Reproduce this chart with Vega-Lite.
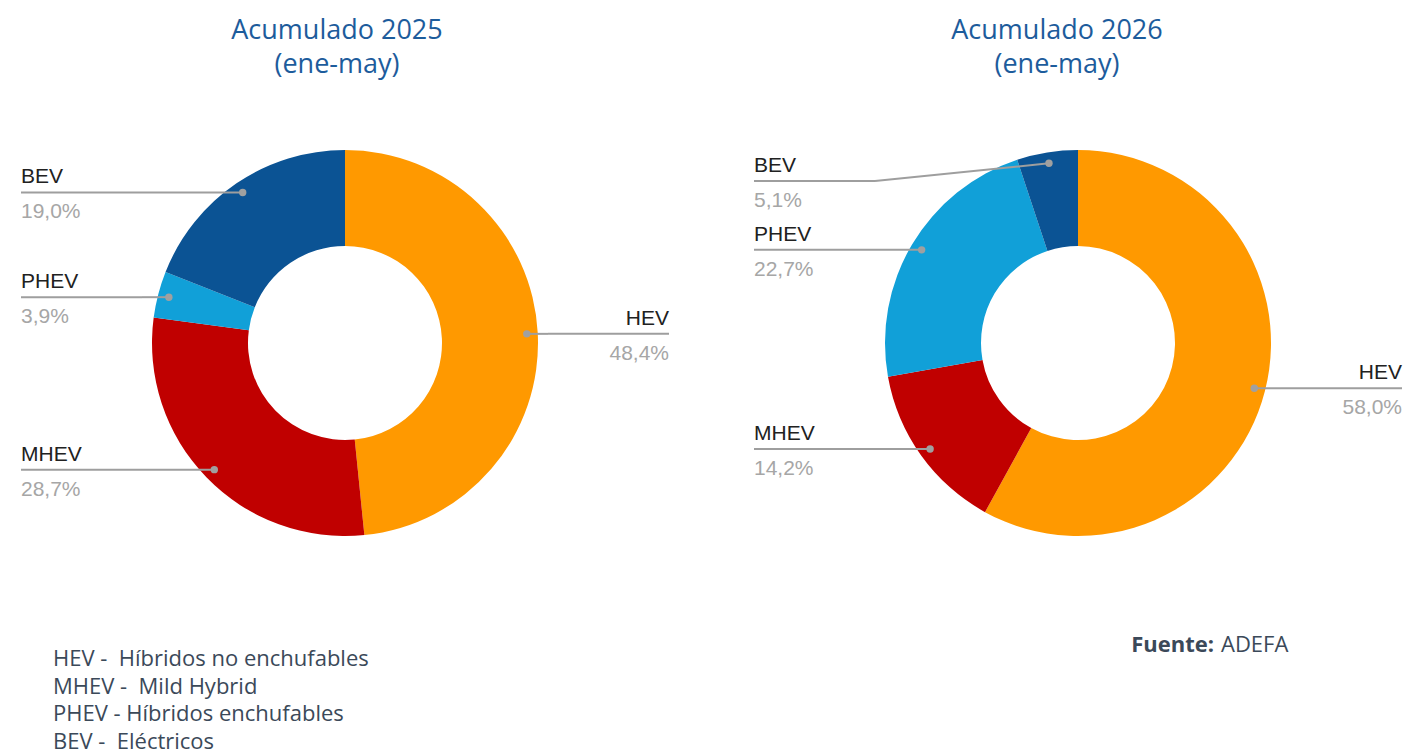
{
  "$schema": "https://vega.github.io/schema/vega-lite/v6.json",
  "width": 1407,
  "height": 756,
  "padding": 0,
  "autosize": {"type": "none"},
  "background": "white",
  "config": {"view": {"stroke": null}},
  "datasets": {
    "slices": [
      {"year": 2025, "type": "HEV", "value": 48.4, "ord": 1},
      {"year": 2025, "type": "MHEV", "value": 28.7, "ord": 2},
      {"year": 2025, "type": "PHEV", "value": 3.9, "ord": 3},
      {"year": 2025, "type": "BEV", "value": 19.0, "ord": 4},
      {"year": 2026, "type": "HEV", "value": 58.0, "ord": 1},
      {"year": 2026, "type": "MHEV", "value": 14.2, "ord": 2},
      {"year": 2026, "type": "PHEV", "value": 22.7, "ord": 3},
      {"year": 2026, "type": "BEV", "value": 5.1, "ord": 4}
    ],
    "types": [
      {"ord": 1, "line": "HEV -\u00a0 Híbridos no enchufables"},
      {"ord": 2, "line": "MHEV -\u00a0 Mild Hybrid"},
      {"ord": 3, "line": "PHEV - Híbridos enchufables"},
      {"ord": 4, "line": "BEV -\u00a0 Eléctricos"}
    ],
    "titles": [{"year": 2025}, {"year": 2026}]
  },
  "data": {"name": "slices"},
  "transform": [
    {"joinaggregate": [{"op": "sum", "field": "value", "as": "total"}], "groupby": ["year"]},
    {"stack": "value", "groupby": ["year"], "sort": [{"field": "ord", "order": "ascending"}], "as": ["s0", "s1"]},
    {"calculate": "PI*(datum.s0+datum.s1)/datum.total", "as": "a"},
    {"calculate": "datum.year==2025?345:1078", "as": "cx"},
    {"calculate": "343", "as": "cy"},
    {"calculate": "datum.a<PI?1:-1", "as": "side"},
    {"calculate": "datum.cx+182*sin(datum.a)", "as": "px"},
    {"calculate": "datum.cy-182*cos(datum.a)", "as": "py"},
    {"calculate": "max(datum.py,181)", "as": "ly"},
    {"calculate": "datum.cx+datum.side*203", "as": "ex"},
    {"calculate": "datum.cx+datum.side*324", "as": "edge"},
    {"calculate": "replace(format(datum.value,'.1f'),'.',',')+'%'", "as": "pct"},
    {"calculate": "100*datum.s0/datum.total", "as": "t0"},
    {"calculate": "100*datum.s1/datum.total", "as": "t1"}
  ],
  "layer": [
    {
      "mark": {"type": "arc", "innerRadius": 97, "outerRadius": 193},
      "encoding": {
        "theta": {"field": "t0", "type": "quantitative", "stack": null, "scale": {"domain": [0, 100]}},
        "theta2": {"field": "t1"},
        "color": {"field": "type", "type": "nominal", "scale": {"domain": ["HEV", "MHEV", "PHEV", "BEV"], "range": ["#FF9900", "#C00000", "#11A0D8", "#0B5394"]}, "legend": null},
        "x": {"field": "cx", "type": "quantitative", "scale": {"domain": [0, 1407], "nice": false, "zero": false}, "axis": null},
        "y": {"field": "cy", "type": "quantitative", "scale": {"domain": [0, 756], "nice": false, "zero": false, "reverse": true}, "axis": null}
      }
    },
    {
      "mark": {"type": "rule", "color": "#9e9e9e", "strokeWidth": 2},
      "encoding": {
        "x": {"field": "edge", "type": "quantitative", "scale": {"domain": [0, 1407], "nice": false, "zero": false}, "axis": null},
        "x2": {"field": "ex"},
        "y": {"field": "ly", "type": "quantitative", "scale": {"domain": [0, 756], "nice": false, "zero": false, "reverse": true}, "axis": null}
      }
    },
    {
      "mark": {"type": "rule", "color": "#9e9e9e", "strokeWidth": 2},
      "encoding": {
        "x": {"field": "ex", "type": "quantitative", "scale": {"domain": [0, 1407], "nice": false, "zero": false}, "axis": null},
        "x2": {"field": "px"},
        "y": {"field": "ly", "type": "quantitative", "scale": {"domain": [0, 756], "nice": false, "zero": false, "reverse": true}, "axis": null},
        "y2": {"field": "py"}
      }
    },
    {
      "mark": {"type": "point", "filled": true, "size": 55, "color": "#a0a0a0", "opacity": 1},
      "encoding": {
        "x": {"field": "px", "type": "quantitative", "scale": {"domain": [0, 1407], "nice": false, "zero": false}, "axis": null},
        "y": {"field": "py", "type": "quantitative", "scale": {"domain": [0, 756], "nice": false, "zero": false, "reverse": true}, "axis": null}
      }
    },
    {
      "transform": [{"filter": "datum.side<0"}],
      "mark": {"type": "text", "align": "left", "baseline": "alphabetic", "dy": -9, "fontSize": 21, "font": "Liberation Sans", "color": "#212121"},
      "encoding": {
        "x": {"field": "edge", "type": "quantitative", "scale": {"domain": [0, 1407], "nice": false, "zero": false}, "axis": null},
        "y": {"field": "ly", "type": "quantitative", "scale": {"domain": [0, 756], "nice": false, "zero": false, "reverse": true}, "axis": null},
        "text": {"field": "type"}
      }
    },
    {
      "transform": [{"filter": "datum.side>0"}],
      "mark": {"type": "text", "align": "right", "baseline": "alphabetic", "dy": -9, "fontSize": 21, "font": "Liberation Sans", "color": "#212121"},
      "encoding": {
        "x": {"field": "edge", "type": "quantitative", "scale": {"domain": [0, 1407], "nice": false, "zero": false}, "axis": null},
        "y": {"field": "ly", "type": "quantitative", "scale": {"domain": [0, 756], "nice": false, "zero": false, "reverse": true}, "axis": null},
        "text": {"field": "type"}
      }
    },
    {
      "transform": [{"filter": "datum.side<0"}],
      "mark": {"type": "text", "align": "left", "baseline": "alphabetic", "dy": 26, "fontSize": 21, "font": "Liberation Sans", "color": "#a6a6a6"},
      "encoding": {
        "x": {"field": "edge", "type": "quantitative", "scale": {"domain": [0, 1407], "nice": false, "zero": false}, "axis": null},
        "y": {"field": "ly", "type": "quantitative", "scale": {"domain": [0, 756], "nice": false, "zero": false, "reverse": true}, "axis": null},
        "text": {"field": "pct"}
      }
    },
    {
      "transform": [{"filter": "datum.side>0"}],
      "mark": {"type": "text", "align": "right", "baseline": "alphabetic", "dy": 26, "fontSize": 21, "font": "Liberation Sans", "color": "#a6a6a6"},
      "encoding": {
        "x": {"field": "edge", "type": "quantitative", "scale": {"domain": [0, 1407], "nice": false, "zero": false}, "axis": null},
        "y": {"field": "ly", "type": "quantitative", "scale": {"domain": [0, 756], "nice": false, "zero": false, "reverse": true}, "axis": null},
        "text": {"field": "pct"}
      }
    },
    {
      "data": {"name": "titles"},
      "transform": [
        {"calculate": "['Acumulado ' + datum.year, '(ene-may)']", "as": "t"},
        {"calculate": "datum.year==2025?337:1057", "as": "tx"}
      ],
      "mark": {"type": "text", "align": "center", "baseline": "alphabetic", "fontSize": 27, "lineHeight": 34, "font": "Open Sans", "color": "#1d5c9c"},
      "encoding": {
        "x": {"field": "tx", "type": "quantitative", "scale": {"domain": [0, 1407], "nice": false, "zero": false}, "axis": null},
        "y": {"datum": 39, "type": "quantitative", "scale": {"domain": [0, 756], "nice": false, "zero": false, "reverse": true}, "axis": null},
        "text": {"field": "t"}
      }
    },
    {
      "data": {"name": "types"},
      "transform": [{"calculate": "666+(datum.ord-1)*27.7", "as": "yy"}],
      "mark": {"type": "text", "align": "left", "baseline": "alphabetic", "fontSize": 22, "font": "Open Sans", "color": "#3b4959"},
      "encoding": {
        "x": {"datum": 53, "type": "quantitative", "scale": {"domain": [0, 1407], "nice": false, "zero": false}, "axis": null},
        "y": {"field": "yy", "type": "quantitative", "scale": {"domain": [0, 756], "nice": false, "zero": false, "reverse": true}, "axis": null},
        "text": {"field": "line"}
      }
    },
    {
      "data": {"values": [{"t": "Fuente:"}]},
      "mark": {"type": "text", "align": "right", "baseline": "alphabetic", "fontSize": 22, "font": "Open Sans", "fontWeight": "bold", "color": "#3b4959"},
      "encoding": {
        "x": {"datum": 1214, "type": "quantitative", "scale": {"domain": [0, 1407], "nice": false, "zero": false}, "axis": null},
        "y": {"datum": 652, "type": "quantitative", "scale": {"domain": [0, 756], "nice": false, "zero": false, "reverse": true}, "axis": null},
        "text": {"field": "t"}
      }
    },
    {
      "data": {"values": [{"t": "ADEFA"}]},
      "mark": {"type": "text", "align": "left", "baseline": "alphabetic", "fontSize": 22, "font": "Open Sans", "color": "#3b4959"},
      "encoding": {
        "x": {"datum": 1221, "type": "quantitative", "scale": {"domain": [0, 1407], "nice": false, "zero": false}, "axis": null},
        "y": {"datum": 652, "type": "quantitative", "scale": {"domain": [0, 756], "nice": false, "zero": false, "reverse": true}, "axis": null},
        "text": {"field": "t"}
      }
    }
  ]
}
